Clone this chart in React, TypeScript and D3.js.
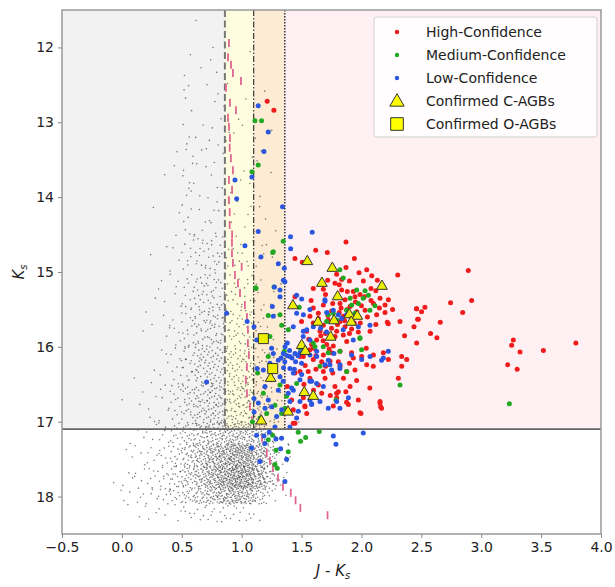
import React, { useEffect, useMemo, useRef } from "react";
import * as d3 from "d3";

// axis ticks
const xTicks = [-0.5, 0, 0.5, 1, 1.5, 2, 2.5, 3, 3.5, 4];
const yTicks = [12, 13, 14, 15, 16, 17, 18];

// colour cuts and magnitude limit
const cutDashed = 0.86;
const cutDashDot = 1.1;
const cutDotted = 1.36;
const ksLimit = 17.1;

// field stars: counts per cell (rows = Ks bins, cols = J-Ks bins of 0.1 from -0.1)
const jkStart = -0.1;
const jkStep = 0.1;
const ksEdges = [11.5, 12, 12.5, 13, 13.5, 14, 14.5, 15, 15.5, 16, 16.5, 17, 17.3, 17.6, 17.9, 18.1, 18.35];
const fieldCounts = [
  [0, 0, 0, 0, 0, 0, 0, 1, 0, 0, 0, 0, 0, 0, 0, 0, 0],
  [0, 0, 0, 0, 0, 0, 2, 1, 4, 1, 0, 1, 0, 0, 0, 0, 0],
  [0, 0, 0, 0, 0, 0, 4, 0, 1, 3, 1, 1, 1, 0, 0, 0, 0],
  [0, 0, 0, 0, 0, 1, 5, 3, 3, 4, 1, 2, 2, 1, 0, 0, 0],
  [0, 0, 0, 0, 1, 1, 7, 3, 4, 1, 2, 2, 2, 1, 0, 0, 0],
  [0, 0, 0, 1, 0, 1, 6, 4, 6, 3, 3, 3, 3, 1, 0, 0, 0],
  [0, 0, 0, 1, 1, 4, 8, 12, 13, 10, 7, 5, 4, 2, 0, 0, 0],
  [0, 0, 0, 1, 3, 5, 10, 16, 18, 13, 10, 8, 5, 2, 1, 0, 0],
  [0, 0, 1, 2, 3, 7, 13, 21, 24, 21, 17, 16, 8, 4, 1, 0, 0],
  [0, 0, 1, 2, 4, 9, 16, 26, 29, 26, 24, 24, 13, 7, 2, 0, 0],
  [0, 1, 2, 4, 6, 13, 21, 31, 36, 34, 32, 32, 20, 11, 4, 1, 0],
  [0, 1, 2, 3, 6, 10, 18, 26, 33, 40, 44, 42, 28, 13, 5, 1, 0],
  [0, 2, 3, 5, 8, 14, 25, 38, 52, 68, 82, 80, 55, 24, 6, 1, 0],
  [1, 3, 5, 6, 10, 15, 27, 40, 58, 78, 92, 88, 60, 24, 5, 0, 0],
  [1, 2, 3, 4, 6, 9, 14, 20, 28, 36, 40, 34, 18, 5, 1, 0, 0],
  [0, 1, 2, 2, 2, 3, 4, 5, 6, 6, 6, 4, 2, 0, 0, 0, 0],
];

// isochrone markers [J-Ks, Ks]
const isoTrack = [
  [0.894, 11.94], [0.886, 12.13], [0.911, 12.23], [0.927, 12.34], [0.994, 12.45], [0.869, 12.54],
  [0.902, 12.74], [0.952, 12.84], [0.886, 12.94], [0.894, 13.06], [0.902, 13.21], [0.9, 13.34],
  [0.91, 13.48], [0.927, 13.64], [0.894, 13.77], [0.92, 13.9], [0.894, 14.04], [0.9, 14.2],
  [0.9, 14.37], [0.92, 14.5], [0.919, 14.61], [0.919, 14.75], [0.927, 14.88], [1.0, 14.93],
  [0.944, 15.04], [0.969, 15.15], [0.986, 15.28], [1.027, 15.44], [1.044, 15.6], [1.052, 15.77],
  [1.052, 15.95], [1.06, 16.11], [1.044, 16.27], [1.035, 16.44], [1.044, 16.62], [1.069, 16.8],
  [1.086, 16.98], [1.17, 17.22], [1.21, 17.42], [1.236, 17.52], [1.26, 17.62], [1.303, 17.75],
  [1.345, 17.87], [1.41, 17.95], [1.45, 18.05], [1.49, 18.15], [1.717, 18.25],
];

const highConf = [
  [1.871, 14.6], [1.618, 14.71], [1.715, 14.74], [1.445, 14.82], [1.506, 14.87], [1.941, 14.82], [1.871, 14.94],
  [2.044, 14.97], [1.98, 15.01], [2.086, 15.05], [2.303, 15.04], [1.793, 15.03], [1.835, 15.1], [1.718, 15.11],
  [1.779, 15.15], [1.598, 15.22], [1.682, 15.23], [1.815, 15.17], [1.835, 15.24], [1.882, 15.26], [2.133, 15.11],
  [2.016, 15.12], [1.932, 15.26], [2.08, 15.22], [1.946, 15.33], [1.988, 15.3], [2.024, 15.33], [2.155, 15.35],
  [2.225, 15.37], [2.1, 15.42], [2.197, 15.44], [2.197, 15.54], [1.863, 15.37], [1.821, 15.42], [1.905, 15.46],
  [1.682, 15.44], [1.598, 15.48], [1.57, 15.59], [1.64, 15.55], [1.751, 15.52], [1.815, 15.54], [1.849, 15.59],
  [1.905, 15.59], [1.96, 15.53], [2.03, 15.51], [2.127, 15.57], [2.216, 15.67], [2.322, 15.66], [2.461, 15.49],
  [2.475, 15.63], [2.439, 15.73], [2.461, 15.95], [2.072, 15.79], [1.974, 15.8], [1.821, 15.66], [1.723, 15.64],
  [1.682, 15.71], [1.598, 15.68], [1.542, 15.79], [1.654, 15.79], [1.793, 15.79], [1.863, 15.73], [1.918, 15.76],
  [1.849, 15.84], [1.737, 15.88], [1.626, 15.91], [1.584, 15.97], [1.71, 15.97], [1.765, 15.99], [1.877, 15.93],
  [1.918, 16.08], [1.821, 16.06], [1.751, 16.08], [1.682, 16.11], [1.57, 16.04], [1.515, 16.13], [1.598, 16.17],
  [1.668, 16.2], [1.737, 16.19], [1.807, 16.2], [1.932, 16.15], [2.002, 16.13], [2.1, 16.11], [2.183, 16.08],
  [2.225, 16.17], [2.336, 16.13], [2.378, 16.17], [2.336, 16.26], [2.308, 16.42], [2.044, 16.24], [1.946, 16.31],
  [1.877, 16.33], [1.821, 16.26], [1.682, 16.33], [1.556, 16.33], [1.487, 16.33], [1.57, 16.42], [1.696, 16.42],
  [1.64, 16.51], [1.779, 16.53], [1.807, 16.6], [1.905, 16.53], [1.793, 16.68], [1.668, 16.62], [1.515, 16.68],
  [1.528, 16.79], [1.891, 16.77], [1.974, 16.71], [2.155, 16.75], [2.16, 16.8], [1.988, 16.88], [1.765, 16.79],
  [1.445, 17.02], [1.445, 15.33], [2.892, 14.98], [2.92, 15.38], [2.744, 15.41], [2.845, 15.54], [2.46, 15.49],
  [2.502, 15.53], [2.53, 15.47], [2.469, 15.63], [2.658, 15.67], [2.577, 15.82], [2.63, 15.88], [3.268, 15.91],
  [3.254, 15.98], [3.324, 16.07], [3.519, 16.05], [3.79, 15.95], [3.221, 16.24], [3.3, 16.3], [1.213, 12.72],
  [1.269, 12.84], [2.224, 15.69], [2.099, 16.26], [2.155, 16.73], [2.168, 16.82], [1.996, 16.89], [1.876, 16.74],
  [1.793, 16.62], [1.528, 16.8], [1.543, 16.89], [1.403, 16.86], [1.417, 16.71], [1.445, 16.35], [1.381, 16.53],
  [1.487, 16.13], [1.431, 17.02], [1.431, 16.84], [1.75, 15.75], [1.8, 15.7], [1.7, 15.82], [1.78, 15.86],
  [1.86, 15.65], [1.68, 15.92], [1.6, 16.02], [1.73, 16.03], [1.64, 15.62], [1.88, 15.5], [1.76, 15.42],
  [1.95, 15.4], [2.05, 15.6], [1.99, 15.68], [2.12, 15.7], [1.53, 16.25], [1.62, 16.3], [1.7, 16.26],
  [1.85, 16.42], [1.96, 16.45], [1.66, 15.85], [1.72, 15.58], [1.83, 15.48], [1.9, 15.82], [1.94, 15.68],
  [2.0, 15.45], [2.08, 15.38], [2.15, 15.48], [1.56, 15.9], [1.62, 16.12], [1.76, 16.35], [1.9, 16.22],
  [2.04, 16.02], [1.52, 16.5], [1.6, 16.58], [1.74, 16.65], [1.87, 16.6], [2.07, 16.55], [1.5, 15.66],
  [1.58, 15.38], [1.7, 15.3], [1.9, 15.12], [2.12, 15.25], [2.26, 15.5], [2.36, 15.85],
];

const mediumConf = [
  [1.259, 14.74], [1.27, 15.2], [1.12, 15.22], [1.481, 15.47], [1.32, 15.57], [1.222, 15.58], [1.334, 15.71],
  [1.236, 15.86], [1.389, 15.77], [1.356, 16.06], [1.612, 16.0], [1.82, 14.97], [1.848, 15.08], [1.96, 15.24],
  [1.974, 15.42], [2.113, 15.45], [2.015, 15.35], [1.876, 15.51], [2.071, 15.51], [1.793, 15.64], [1.709, 15.66],
  [1.681, 16.0], [1.82, 16.06], [1.987, 15.89], [2.001, 16.04], [1.876, 16.33], [2.322, 16.51], [1.487, 16.02],
  [1.222, 16.13], [1.278, 16.26], [1.25, 16.44], [1.32, 16.51], [1.375, 16.66], [1.459, 16.49], [1.278, 16.78],
  [1.209, 16.89], [1.153, 16.95], [1.361, 16.82], [1.181, 16.62], [1.334, 16.89], [1.787, 16.71], [2.03, 15.25],
  [2.058, 15.31], [1.918, 15.44], [1.905, 15.35], [1.946, 15.55], [1.765, 15.55], [1.723, 15.57], [1.988, 15.88],
  [1.723, 16.08], [1.598, 15.95], [1.654, 16.26], [1.264, 14.73], [1.347, 14.59], [1.111, 12.98], [1.166, 12.98],
  [1.138, 13.57], [1.086, 13.66], [1.117, 15.21], [1.133, 16.35], [1.09, 17.0], [3.235, 16.76], [1.258, 17.18],
  [1.222, 17.24], [1.472, 17.14], [1.492, 17.26], [1.534, 17.21], [1.648, 17.13], [1.286, 17.38], [1.389, 17.4],
  [1.278, 17.57], [1.297, 17.62],
];

const lowConf = [
  [1.138, 12.78], [1.222, 13.13], [1.186, 13.39], [0.944, 13.77], [0.958, 14.02], [1.085, 13.73], [1.341, 14.13],
  [1.138, 14.46], [1.408, 14.53], [1.589, 14.47], [1.027, 14.65], [0.874, 15.55], [1.046, 15.66], [1.103, 15.73],
  [0.707, 16.47], [1.13, 16.29], [1.103, 16.69], [1.104, 16.87], [1.409, 14.69], [1.161, 14.8], [1.356, 14.95],
  [1.348, 15.11], [1.273, 15.2], [1.256, 15.46], [1.32, 15.33], [1.501, 15.36], [1.57, 15.5], [1.459, 15.55],
  [1.431, 15.73], [1.381, 15.95], [1.348, 16.09], [1.306, 16.18], [1.403, 16.13], [1.445, 16.09], [1.487, 16.0],
  [1.514, 16.06], [1.57, 16.11], [1.626, 16.13], [1.695, 16.24], [1.751, 16.31], [1.82, 16.29], [1.403, 16.29],
  [1.431, 16.35], [1.487, 16.44], [1.584, 16.46], [1.626, 16.49], [1.431, 16.58], [1.389, 16.62], [1.487, 16.73],
  [1.57, 16.71], [1.654, 16.73], [1.723, 16.82], [1.82, 16.82], [1.459, 16.95], [1.403, 17.07], [1.292, 16.93],
  [1.25, 16.8], [1.306, 16.58], [1.236, 16.22], [1.181, 16.31], [1.264, 16.09], [1.125, 15.91], [1.195, 16.53],
  [1.222, 16.71], [1.32, 16.4], [1.362, 16.0], [1.659, 15.75], [1.709, 15.8], [1.695, 15.37], [1.765, 15.51],
  [1.848, 15.77], [1.932, 15.91], [1.974, 15.73], [2.071, 15.71], [2.168, 16.18], [2.224, 16.06], [1.77, 16.09],
  [1.723, 16.18], [1.543, 15.77], [1.57, 15.91], [1.514, 15.86], [1.306, 14.89], [1.361, 15.13], [1.459, 15.31],
  [1.515, 15.57], [1.696, 15.39], [1.71, 15.54], [1.835, 15.62], [1.877, 15.57], [1.807, 15.57], [1.598, 15.73],
  [1.515, 15.79], [1.626, 16.06], [1.487, 16.08], [1.417, 16.55], [1.501, 16.37], [1.57, 16.46], [1.682, 16.53],
  [1.347, 16.46], [1.403, 16.73], [1.473, 16.86], [1.584, 16.77], [1.793, 16.73], [1.891, 16.68], [1.918, 16.11],
  [2.002, 16.17], [2.072, 16.13], [2.183, 16.15], [1.821, 16.24], [1.737, 16.24], [1.264, 15.59], [1.32, 15.24],
  [1.25, 16.02], [1.38, 16.12], [1.42, 16.15], [1.45, 16.2], [1.36, 16.2], [1.4, 16.05], [1.33, 16.15],
  [1.47, 16.12], [1.35, 16.28], [1.5, 16.22], [1.44, 16.3], [1.083, 17.35], [1.125, 17.18], [1.186, 17.19],
  [1.194, 17.29], [1.23, 17.14], [1.286, 17.23], [1.333, 17.22], [1.325, 17.36], [1.375, 17.5], [1.152, 17.53],
  [1.361, 17.8], [1.765, 17.19], [1.787, 17.3], [1.278, 17.07], [2.015, 17.15], [1.139, 16.75], [1.195, 16.82],
  [1.334, 16.84], [1.584, 16.76],
];

const carbonAgb = [
  [1.548, 14.86], [1.757, 14.95], [1.67, 15.15], [1.801, 15.33], [2.171, 15.19], [1.428, 15.45], [1.899, 15.57],
  [1.965, 15.59], [1.915, 15.67], [1.637, 15.67], [1.771, 15.65], [1.743, 15.87], [1.501, 15.98], [1.531, 16.06],
  [1.242, 16.42], [1.523, 16.61], [1.598, 16.66], [1.387, 16.87], [1.164, 16.99],
];
const oxygenAgb = [[1.181, 15.89], [1.259, 16.29]];

const legendItems = ["High-Confidence", "Medium-Confidence", "Low-Confidence", "Confirmed C-AGBs", "Confirmed O-AGBs"];

const RED = "#f01c1c";
const GREEN = "#22a822";
const BLUE = "#2a56e0";
const FONT = "DejaVu Sans";

function halton(i: number, b: number) {
  let f = 1, r = 0;
  while (i > 0) {
    f /= b;
    r += f * (i % b);
    i = Math.floor(i / b);
  }
  return r;
}

export default function App() {
  const xAxisRef = useRef<SVGGElement>(null);
  const yAxisRef = useRef<SVGGElement>(null);

  const x = d3.scaleLinear().domain([-0.5, 4]).range([62, 601]);
  const y = d3.scaleLinear().domain([11.5, 18.5]).range([10, 534]);

  const field = useMemo(() => {
    const pts: number[][] = [];
    fieldCounts.forEach((row, r) => {
      row.forEach((n, c) => {
        const x0 = jkStart + c * jkStep;
        const y0 = ksEdges[r];
        const h = ksEdges[r + 1] - y0;
        for (let k = 0; k < n; k++) {
          const idx = k + 1 + (r * 17 + c) * 29;
          pts.push([x0 + halton(idx, 2) * jkStep, y0 + halton(idx, 3) * h]);
        }
      });
    });
    return pts;
  }, []);

  useEffect(() => {
    const gx = d3.select(xAxisRef.current!);
    gx.call(d3.axisBottom(x).tickValues(xTicks).tickFormat(d3.format(".1f")).tickSize(4).tickPadding(4));
    gx.select(".domain").remove();
    gx.attr("font-size", 14).attr("font-family", FONT);
    gx.selectAll(".tick line").attr("stroke", "#888");
    gx.selectAll(".tick text").attr("fill", "#222");

    const gy = d3.select(yAxisRef.current!);
    gy.call(d3.axisLeft(y).tickValues(yTicks).tickFormat(d3.format("d")).tickSize(4).tickPadding(4));
    gy.select(".domain").remove();
    gy.attr("font-size", 14).attr("font-family", FONT);
    gy.selectAll(".tick line").attr("stroke", "#888");
    gy.selectAll(".tick text").attr("fill", "#222");
  }, []);

  const top = y.range()[0];
  const yLim = y(ksLimit);
  const left = x.range()[0];
  const right = x.range()[1];

  const tri = d3.symbol(d3.symbolTriangle, 50)()!;
  const sq = d3.symbol(d3.symbolSquare, 100)()!;
  const triLeg = d3.symbol(d3.symbolTriangle, 90)()!;
  const sqLeg = d3.symbol(d3.symbolSquare, 160)()!;

  const regions = [
    { from: -0.5, to: cutDashed, fill: "#f2f2f2" },
    { from: cutDashed, to: cutDashDot, fill: "#fffde0" },
    { from: cutDashDot, to: cutDotted, fill: "#fdebd3" },
    { from: cutDotted, to: 4, fill: "#fff0f3" },
  ];

  return (
    <svg width={615} height={587} style={{ position: "absolute", left: 0, top: 0, background: "#fff" }}>
      {regions.map((r, i) => (
        <rect key={i} x={x(r.from)} y={top} width={x(r.to) - x(r.from)} height={yLim - top} fill={r.fill} />
      ))}

      <g>
        {field.map((d, i) => (
          <circle key={i} cx={x(d[0])} cy={y(d[1])} r={0.8} fill="#000" opacity={0.5} />
        ))}
      </g>

      <line x1={x(cutDashed)} x2={x(cutDashed)} y1={top} y2={yLim} stroke="#777" strokeWidth={2} strokeDasharray="7,3.5" />
      <line x1={x(cutDashDot)} x2={x(cutDashDot)} y1={top} y2={yLim} stroke="#444" strokeWidth={1.3} strokeDasharray="6,2,1.5,2" />
      <line x1={x(cutDotted)} x2={x(cutDotted)} y1={top} y2={yLim} stroke="#333" strokeWidth={1.5} strokeDasharray="1.5,1.5" />

      <g>
        {isoTrack.map((d, i) => (
          <line key={i} x1={x(d[0])} x2={x(d[0])} y1={y(d[1]) - 4} y2={y(d[1]) + 4} stroke="#e06690" strokeWidth={1.8} />
        ))}
      </g>

      <g>
        {highConf.map((d, i) => <circle key={i} cx={x(d[0])} cy={y(d[1])} r={2.5} fill={RED} />)}
      </g>
      <g>
        {mediumConf.map((d, i) => <circle key={i} cx={x(d[0])} cy={y(d[1])} r={2.5} fill={GREEN} />)}
      </g>
      <g>
        {lowConf.map((d, i) => <circle key={i} cx={x(d[0])} cy={y(d[1])} r={2.5} fill={BLUE} />)}
      </g>
      <g>
        {carbonAgb.map((d, i) => (
          <path key={i} d={tri} transform={`translate(${x(d[0])},${y(d[1])})`} fill="#eeee00" stroke="#333" strokeWidth={1} />
        ))}
        {oxygenAgb.map((d, i) => (
          <path key={i} d={sq} transform={`translate(${x(d[0])},${y(d[1])})`} fill="#eeee00" stroke="#333" strokeWidth={1} />
        ))}
      </g>

      <line x1={left} x2={right} y1={yLim} y2={yLim} stroke="#666" strokeWidth={1.8} />

      <g transform="translate(374,17)">
        <rect width={223} height={120} rx={3} fill="#fff" fillOpacity={0.85} stroke="#d0d0d0" />
        {legendItems.map((t, i) => {
          const cy = 15 + i * 23;
          let mark;
          if (i === 0) mark = <circle cx={23} cy={cy} r={2.2} fill={RED} />;
          else if (i === 1) mark = <circle cx={23} cy={cy} r={2.2} fill={GREEN} />;
          else if (i === 2) mark = <circle cx={23} cy={cy} r={2.2} fill={BLUE} />;
          else if (i === 3) mark = <path d={triLeg} transform={`translate(23,${cy + 1})`} fill="#ffff00" stroke="#333" />;
          else mark = <path d={sqLeg} transform={`translate(23,${cy})`} fill="#ffff00" stroke="#333" />;
          return (
            <g key={t}>
              {mark}
              <text x={52} y={cy} dy="0.35em" fontFamily={FONT} fontSize={14} fill="#222">{t}</text>
            </g>
          );
        })}
      </g>

      <rect x={left} y={top} width={right - left} height={y.range()[1] - top} fill="none" stroke="#999" strokeWidth={1.5} />

      <g ref={xAxisRef} transform={`translate(0,${y.range()[1]})`} />
      <g ref={yAxisRef} transform={`translate(${left},0)`} />

      <text x={333} y={576} textAnchor="middle" fontFamily={FONT} fontSize={15} fill="#222">
        <tspan fontStyle="italic">J</tspan>
        <tspan> - </tspan>
        <tspan fontStyle="italic">K</tspan>
        <tspan fontStyle="italic" fontSize={10} dy={3}>s</tspan>
      </text>
      <text transform="translate(24,272) rotate(-90)" textAnchor="middle" fontFamily={FONT} fontSize={15} fill="#222">
        <tspan fontStyle="italic">K</tspan>
        <tspan fontStyle="italic" fontSize={10} dy={3}>s</tspan>
      </text>
    </svg>
  );
}
